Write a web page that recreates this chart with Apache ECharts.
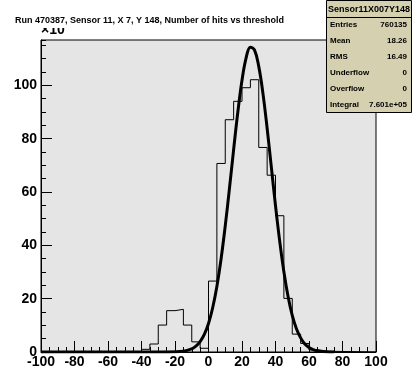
<!DOCTYPE html>
<html>
<head>
<meta charset="utf-8">
<script src="https://cdn.jsdelivr.net/npm/echarts@6/dist/echarts.min.js"></script>
<style>html,body{margin:0;padding:0;background:#fff}#c{width:418px;height:390px}</style>
</head>
<body>
<div id="c"></div>
<script>
// Histogram: bins of width 5 starting at binStart (values in units of 10^3)
const binStart = -40;
const binWidth = 5;
const binValues = [1.0, 3.0, 10.1, 15.5, 16.0, 10.1, 3.8, 1.4, 26.6, 70.7, 87.1, 94.0, 99.1, 102.1, 76.7, 66.3, 51.1, 20.1, 6.7, 3.2, 0.8, 0.3];
// Fit curve
const fitX = [-100, -50, -25, -15, -10, -7.5, -5, -2.5, 0, 2.5, 5, 7.5, 10, 12.5, 15, 17.5, 20, 22.5, 25, 27.5, 30, 32.5, 35, 37.5, 40, 42.5, 45, 47.5, 50, 52.5, 55, 57.5, 60, 62.5, 65, 70, 75];
const fitY = [0, 0, 0.02, 0.3, 1.2, 2.2, 3.9, 6.6, 10.7, 16.6, 24.6, 34.9, 47.3, 61.3, 75.9, 89.9, 101.9, 110.4, 114.3, 113.2, 107.1, 97.0, 83.9, 69.4, 54.9, 41.6, 30.1, 20.8, 13.7, 8.7, 5.3, 3.0, 1.7, 0.9, 0.45, 0.1, 0];
const xTicks = [-100, -80, -60, -40, -20, 0, 20, 40, 60, 80, 100];
const yTicks = [0, 20, 40, 60, 80, 100];
const statLabels = ['Entries', 'Mean', 'RMS', 'Underflow', 'Overflow', 'Integral'];
const statValues = ['760135', '18.26', '16.49', '0', '0', '7.601e+05'];
const titleText = 'Run 470387, Sensor 11, X 7, Y 148, Number of hits vs threshold';
const boxTitle = 'Sensor11X007Y148';

const histData = [[-100, 0], [binStart, 0]];
binValues.forEach((v, i) => {
  const lo = binStart + i * binWidth, hi = lo + binWidth;
  histData.push([lo, v], [hi, v]);
});
histData.push([binStart + binValues.length * binWidth, 0], [100, 0]);
const fitData = fitX.map((x, i) => [x, fitY[i]]);

const chart = echarts.init(document.getElementById('c'), null, {renderer: 'canvas'});
const FONT = 'Liberation Sans, Arial, sans-serif';
const graphic = [
  {type: 'text', z: 1, left: 41, top: 23, style: {text: '\u00d710', font: 'bold 14px ' + FONT, fill: '#000'}},
  {type: 'rect', z: 2, shape: {x: 0, y: 0, width: 326, height: 28}, style: {fill: '#fff'}},
  {type: 'text', z: 3, x: 15, y: 21, style: {text: titleText, font: 'bold 9px ' + FONT, fill: '#000', verticalAlign: 'middle'}},
  {type: 'rect', z: 4, shape: {x: 326.5, y: 0.5, width: 85, height: 112}, style: {fill: '#d5d0b0', stroke: '#000', lineWidth: 1}},
  {type: 'line', z: 5, shape: {x1: 326.5, y1: 17.5, x2: 411.5, y2: 17.5}, style: {stroke: '#000', lineWidth: 1}},
  {type: 'text', z: 5, x: 369, y: 9.5, style: {text: boxTitle, font: 'bold 9px ' + FONT, fill: '#000', align: 'center', verticalAlign: 'middle'}}
];
const rowY = [25, 41, 57, 73, 89, 104.5];
statLabels.forEach((l, i) => {
  graphic.push({type: 'text', z: 5, x: 330, y: rowY[i], style: {text: l, font: 'bold 8px ' + FONT, fill: '#000', align: 'left', verticalAlign: 'middle'}});
  graphic.push({type: 'text', z: 5, x: 407, y: rowY[i], style: {text: statValues[i], font: 'bold 8px ' + FONT, fill: '#000', align: 'right', verticalAlign: 'middle'}});
});

const labelStyle = {color: '#000', fontSize: 14, fontWeight: 'bold', fontFamily: FONT};
chart.setOption({
  animation: false,
  backgroundColor: '#fff',
  grid: {left: 41, top: 40, width: 335, height: 312, show: true, backgroundColor: '#e5e5e5', borderColor: '#000', borderWidth: 1},
  xAxis: {
    type: 'value', min: -100, max: 100, interval: 20,
    axisLine: {show: true, onZero: false, lineStyle: {color: '#000', width: 1}},
    axisTick: {show: true, inside: true, length: 11, lineStyle: {color: '#000'}},
    minorTick: {show: true, splitNumber: 4, length: 5, lineStyle: {color: '#000'}},
    splitLine: {show: false},
    axisLabel: Object.assign({margin: 3, formatter: v => xTicks.includes(v) ? String(v) : ''}, labelStyle)
  },
  yAxis: [{
    type: 'value', min: 0, max: 117, interval: 20,
    axisLine: {show: true, onZero: false, lineStyle: {color: '#000', width: 1}},
    axisTick: {show: true, inside: true, length: 11, lineStyle: {color: '#000'}},
    splitLine: {show: false},
    axisLabel: Object.assign({margin: 4, showMaxLabel: false, formatter: v => yTicks.includes(v) ? String(v) : ''}, labelStyle)
  }, {
    type: 'value', min: 0, max: 117, interval: 5, position: 'left',
    axisLine: {show: false, onZero: false},
    axisTick: {show: true, inside: true, length: 5, lineStyle: {color: '#000'}},
    splitLine: {show: false},
    axisLabel: {show: false}
  }],
  series: [{
    type: 'line', data: histData, yAxisIndex: 0, symbol: 'none', smooth: false,
    lineStyle: {color: '#000', width: 1}, z: 3
  }, {
    type: 'line', data: fitData, yAxisIndex: 0, symbol: 'none', smooth: 0.4,
    lineStyle: {color: '#000', width: 3}, z: 4
  }],
  graphic: graphic
});
</script>
</body>
</html>
